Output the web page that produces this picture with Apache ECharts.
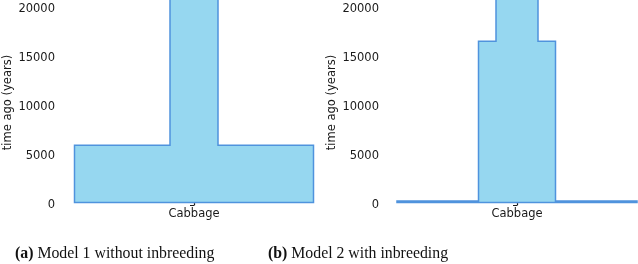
<!DOCTYPE html>
<html>
<head>
<meta charset="utf-8">
<script src="https://cdn.jsdelivr.net/npm/echarts@6/dist/echarts.min.js"></script>
<style>
  html, body { margin: 0; padding: 0; background: #fff; }
  #chart { width: 638px; height: 264px; }
</style>
</head>
<body>
<div id="chart"></div>
<script>
// deme name on the x axis
const categories = ['Cabbage'];
// epoch boundaries (time ago, years), oldest last; widths = deme size per epoch
const timesA = [250, 6100, 26000];
const widthsA = [239, 48];
const timesB = [250, 420, 16700, 26000];
const widthsB = [240, 77, 42];
const yTicks = [0, 5000, 10000, 15000, 20000];
const captions = ['Model 1 without inbreeding', 'Model 2 with inbreeding'];
const tags = ['(a)', '(b)'];

const chart = echarts.init(document.getElementById('chart'));

// polygon of the deme: left edge upwards, right edge downwards
function demeItem(times, widths) {
  return function (params, api) {
    const pts = [];
    for (let i = 0; i < widths.length; i++) {
      pts.push(api.coord([-widths[i] / 2, times[i]]));
      pts.push(api.coord([-widths[i] / 2, times[i + 1]]));
    }
    for (let i = widths.length - 1; i >= 0; i--) {
      pts.push(api.coord([widths[i] / 2, times[i + 1]]));
      pts.push(api.coord([widths[i] / 2, times[i]]));
    }
    return {
      type: 'polygon',
      shape: { points: pts },
      style: { fill: '#96d7f0', stroke: '#4f93dd', lineWidth: 1.5 }
    };
  };
}

const axisFont = { fontFamily: 'DejaVu Sans', fontSize: 11.5, color: '#1a1a1a' };

function xAx(gridIndex, min, max) {
  return {
    type: 'value', gridIndex, min, max, offset: -4,
    axisLine: { show: false },
    splitLine: { show: false },
    axisTick: { customValues: [0], length: 3, lineStyle: { color: '#333' } },
    axisLabel: { ...axisFont, customValues: [0], margin: 7, formatter: () => categories[0] }
  };
}
function yAx(gridIndex) {
  return {
    type: 'value', gridIndex, min: 0, max: 20918,
    name: 'time ago (years)', nameLocation: 'middle', nameGap: 47,
    nameTextStyle: { ...axisFont },
    axisLine: { show: true, lineStyle: { color: '#1a1a1a', width: 1.2 } },
    splitLine: { show: false },
    axisTick: { customValues: yTicks, length: 4, lineStyle: { color: '#1a1a1a' } },
    axisLabel: { ...axisFont, customValues: yTicks, margin: 6, formatter: v => String(v) }
  };
}

const option = {
  animation: false,
  grid: [
    { left: 61, top: 0, width: 266, height: 205 },
    { left: 385, top: 0, right: 0, height: 205 }
  ],
  xAxis: [xAx(0, -133, 133), xAx(1, -132, 121)],
  yAxis: [yAx(0), yAx(1)],
  // sub-figure captions, slightly condensed serif
  graphic: captions.map((c, i) => ({
    type: 'text',
    x: i === 0 ? 15 : 268, y: 262,
    scaleX: 0.93,
    style: {
      text: '{b|' + tags[i] + '} ' + c,
      fontFamily: 'Liberation Serif', fontSize: 17, fill: '#111',
      verticalAlign: 'bottom',
      rich: {
        b: { fontFamily: 'Liberation Serif', fontSize: 17, fontWeight: 'bold', fill: '#111' }
      }
    }
  })),
  series: [
    { type: 'custom', xAxisIndex: 0, yAxisIndex: 0, data: [[0, 0]], renderItem: demeItem(timesA, widthsA), clip: true },
    { type: 'custom', xAxisIndex: 1, yAxisIndex: 1, data: [[0, 0]], renderItem: demeItem(timesB, widthsB), clip: true }
  ]
};
chart.setOption(option);
window.addEventListener('resize', () => chart.resize());
</script>
</body>
</html>
